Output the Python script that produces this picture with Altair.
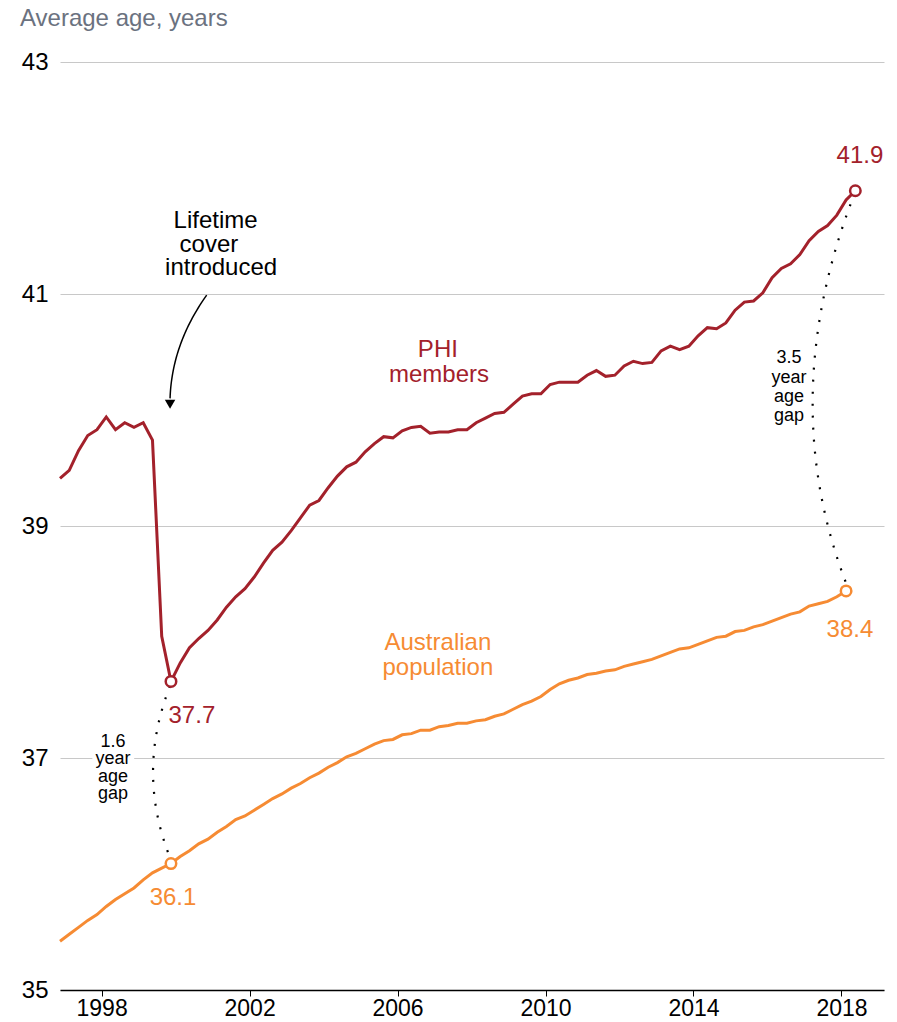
import altair as alt
import numpy as np
import pandas as pd

FONT = "Liberation Sans, Arial, Helvetica, sans-serif"
RED = "#a3212b"
ORANGE = "#f68b33"

# quarterly series, first quarter plotted at 1996.875
T0 = 1996.875
STEP = 0.25

phi_values = [39.41, 39.48, 39.65, 39.78, 39.83, 39.94, 39.83, 39.89, 39.85, 39.89,
              39.74, 38.05, 37.66, 37.82, 37.95, 38.03, 38.10, 38.19, 38.30, 38.39,
              38.46, 38.56, 38.68, 38.79, 38.86, 38.96, 39.07, 39.18, 39.22, 39.33,
              39.43, 39.51, 39.55, 39.64, 39.71, 39.77, 39.76, 39.82, 39.85, 39.86,
              39.80, 39.81, 39.81, 39.83, 39.83, 39.89, 39.93, 39.97, 39.98, 40.05,
              40.12, 40.14, 40.14, 40.22, 40.24, 40.24, 40.24, 40.30, 40.34, 40.29,
              40.30, 40.38, 40.42, 40.40, 40.41, 40.51, 40.55, 40.52, 40.55, 40.64,
              40.71, 40.70, 40.75, 40.86, 40.93, 40.94, 41.01, 41.14, 41.22, 41.26,
              41.34, 41.46, 41.54, 41.59, 41.68, 41.81, 41.89]

pop_values = [35.42, 35.48, 35.54, 35.60, 35.65, 35.72, 35.78, 35.83, 35.88, 35.95,
              36.01, 36.05, 36.09, 36.15, 36.20, 36.26, 36.30, 36.36, 36.41, 36.47,
              36.50, 36.55, 36.60, 36.65, 36.69, 36.74, 36.78, 36.83, 36.87, 36.92,
              36.96, 37.01, 37.04, 37.08, 37.12, 37.15, 37.16, 37.20, 37.21, 37.24,
              37.24, 37.27, 37.28, 37.30, 37.30, 37.32, 37.33, 37.36, 37.38, 37.42,
              37.46, 37.49, 37.53, 37.59, 37.64, 37.67, 37.69, 37.72, 37.73, 37.75,
              37.76, 37.79, 37.81, 37.83, 37.85, 37.88, 37.91, 37.94, 37.95, 37.98,
              38.01, 38.04, 38.05, 38.09, 38.10, 38.13, 38.15, 38.18, 38.21, 38.24,
              38.26, 38.31, 38.33, 38.35, 38.39, 38.44]

x_ticks = [1998, 2002, 2006, 2010, 2014, 2018]
y_ticks = [35, 37, 39, 41, 43]
X_DOMAIN = [1996.875, 2019.15]
Y_DOMAIN = [35, 43]

phi_years = [T0 + STEP * i for i in range(len(phi_values))]
pop_years = [T0 + STEP * i for i in range(len(pop_values))]

phi = pd.DataFrame({"x": phi_years, "y": phi_values})
pop = pd.DataFrame({"x": pop_years, "y": pop_values})

# highlighted points: lowest PHI quarter and the latest quarters
MIN_I = 12
pts = pd.DataFrame({
    "x": [phi_years[MIN_I], phi_years[-1], pop_years[MIN_I], pop_years[-1]],
    "y": [phi_values[MIN_I], phi_values[-1], pop_values[MIN_I], pop_values[-1]],
    "s": ["phi", "phi", "pop", "pop"],
})

# annotation curves (quadratic bezier control points, in data units)
def bezier(p0, p1, p2, n=40):
    t = np.linspace(0, 1, n)
    xs = (1 - t) ** 2 * p0[0] + 2 * (1 - t) * t * p1[0] + t ** 2 * p2[0]
    ys = (1 - t) ** 2 * p0[1] + 2 * (1 - t) * t * p1[1] + t ** 2 * p2[1]
    return xs, ys

gap_left_ctrl = [(1999.85, 37.62), (1998.93, 36.88), (1999.85, 36.14)]
gap_right_ctrl = [(2018.36, 41.87), (2016.18, 40.09), (2018.17, 38.47)]
arrow_ctrl = [(2000.84, 40.99), (1999.90, 40.57), (1999.85, 40.10)]

rows = []
for name, ctrl in [("left", gap_left_ctrl), ("right", gap_right_ctrl)]:
    xs, ys = bezier(*ctrl)
    for i, (a, b) in enumerate(zip(xs, ys)):
        rows.append({"g": name, "i": i, "x": a, "y": b})
gaps = pd.DataFrame(rows)

ax_, ay_ = bezier(*arrow_ctrl)
arrow = pd.DataFrame({"i": range(len(ax_)), "x": ax_, "y": ay_})
arrow_head = pd.DataFrame({"x": [1999.85], "y": [40.05]})

blank_box = pd.DataFrame({"x": [1997.75], "x2": [1998.88], "y": [36.72], "y2": [37.12]})

texts = pd.DataFrame([
    {"t": "Lifetime", "x": 2001.08, "y": 41.63, "c": "black", "fs": 24},
    {"t": "cover", "x": 2000.90, "y": 41.42, "c": "black", "fs": 24},
    {"t": "introduced", "x": 2001.23, "y": 41.22, "c": "black", "fs": 24},
    {"t": "PHI", "x": 2007.09, "y": 40.52, "c": "red", "fs": 24},
    {"t": "members", "x": 2007.12, "y": 40.30, "c": "red", "fs": 24},
    {"t": "Australian", "x": 2007.09, "y": 37.99, "c": "orange", "fs": 24},
    {"t": "population", "x": 2007.09, "y": 37.78, "c": "orange", "fs": 24},
    {"t": "41.9", "x": 2018.50, "y": 42.19, "c": "red", "fs": 24},
    {"t": "37.7", "x": 2000.44, "y": 37.36, "c": "red", "fs": 24},
    {"t": "36.1", "x": 1999.93, "y": 35.79, "c": "orange", "fs": 24},
    {"t": "38.4", "x": 2018.23, "y": 38.10, "c": "orange", "fs": 24},
    {"t": "1.6", "x": 1998.31, "y": 37.14, "c": "black", "fs": 18},
    {"t": "year", "x": 1998.31, "y": 36.99, "c": "black", "fs": 18},
    {"t": "age", "x": 1998.31, "y": 36.84, "c": "black", "fs": 18},
    {"t": "gap", "x": 1998.31, "y": 36.69, "c": "black", "fs": 18},
    {"t": "3.5", "x": 2016.58, "y": 40.45, "c": "black", "fs": 18},
    {"t": "year", "x": 2016.58, "y": 40.28, "c": "black", "fs": 18},
    {"t": "age", "x": 2016.58, "y": 40.11, "c": "black", "fs": 18},
    {"t": "gap", "x": 2016.58, "y": 39.95, "c": "black", "fs": 18},
])


def X(field="x"):
    return alt.X(f"{field}:Q", scale=alt.Scale(domain=X_DOMAIN, nice=False, zero=False),
                 axis=alt.Axis(values=x_ticks, format="d", grid=False, domain=True,
                               domainColor="black", domainWidth=1.5, ticks=True,
                               tickColor="black", tickSize=6, tickWidth=1,
                               labelFontSize=23, labelPadding=1, labelColor="black",
                               labelFont=FONT, labelFlush=False),
                 title=None)


def Y(field="y"):
    return alt.Y(f"{field}:Q", scale=alt.Scale(domain=Y_DOMAIN, nice=False, zero=False),
                 axis=alt.Axis(values=y_ticks, format="d", grid=True, gridColor="#c8c8c8",
                               gridWidth=1, domain=False, ticks=False, labelFontSize=24,
                               labelPadding=12, labelColor="black", labelFont=FONT),
                 title=None)


color_scale = alt.Scale(domain=["red", "orange", "black"], range=[RED, ORANGE, "black"])

box = alt.Chart(blank_box).mark_rect(color="white").encode(
    x=X("x"), x2="x2:Q", y=Y("y"), y2="y2:Q")

phi_line = alt.Chart(phi).mark_line(color=RED, strokeWidth=3).encode(x=X(), y=Y())
pop_line = alt.Chart(pop).mark_line(color=ORANGE, strokeWidth=3).encode(x=X(), y=Y())

gap_lines = alt.Chart(gaps).mark_line(color="black", strokeWidth=2.2, strokeDash=[2, 10]).encode(
    x=X(), y=Y(), detail="g:N", order="i:Q")

arrow_line = alt.Chart(arrow).mark_line(color="black", strokeWidth=1.5).encode(
    x=X(), y=Y(), order="i:Q")
arrow_tip = alt.Chart(arrow_head).mark_point(shape="triangle-down", filled=True, color="black",
                                             size=110, opacity=1).encode(x=X(), y=Y())

points = alt.Chart(pts).mark_point(filled=True, fill="white", size=110, strokeWidth=2.5,
                                   opacity=1).encode(
    x=X(), y=Y(),
    stroke=alt.Stroke("s:N", scale=alt.Scale(domain=["phi", "pop"], range=[RED, ORANGE]),
                      legend=None))

labels = alt.Chart(texts).mark_text(font=FONT, baseline="middle", align="center").encode(
    x=X(), y=Y(), text="t:N",
    size=alt.Size("fs:Q", scale=None, legend=None),
    color=alt.Color("c:N", scale=color_scale, legend=None))

subtitle = alt.Chart(pd.DataFrame({"t": ["Average age, years"]})).mark_text(
    font=FONT, fontSize=24, color="#6b7280", align="left", baseline="middle").encode(
    x=alt.value(-40), y=alt.value(-43), text="t:N")

chart = alt.layer(
    box, pop_line, phi_line, gap_lines, arrow_line, arrow_tip, points, labels, subtitle
).properties(
    width=824, height=928,
    padding={"left": 52, "top": 54, "right": 5, "bottom": 30},
    autosize=alt.AutoSizeParams(type="none"),
).configure(font=FONT).configure_view(strokeWidth=0, stroke="transparent")

chart.save("out.html", embed_options={"renderer": "svg", "actions": False})
